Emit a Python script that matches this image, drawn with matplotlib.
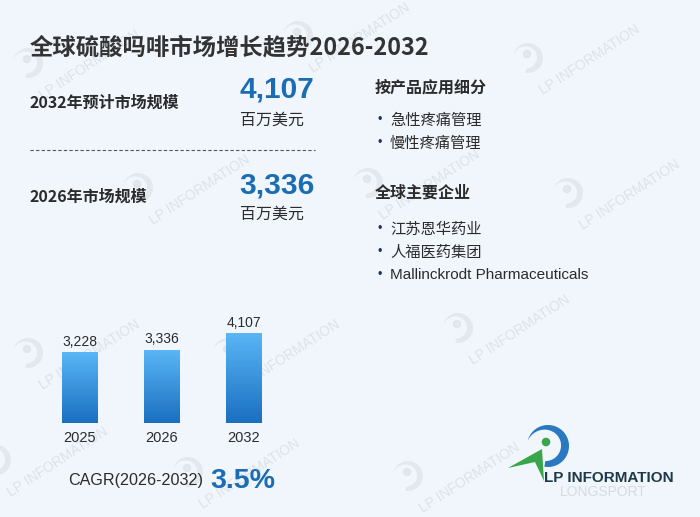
import numpy as np
import matplotlib
matplotlib.use("Agg")
from matplotlib import pyplot as plt
from matplotlib.colors import LinearSegmentedColormap
from matplotlib.patches import Polygon, Circle

plt.rcParams['font.family'] = ['Noto Sans CJK SC', 'DejaVu Sans']

# data
years = ['2025', '2026', '2032']
values = [3228, 3336, 4107]
value_labels = ['3,228', '3,336', '4,107']
title = '全球硫酸吗啡市场增长趋势2026-2032'
size_2032 = '4,107'
size_2026 = '3,336'
unit = '百万美元'
seg_title = '按产品应用细分'
segments = ['急性疼痛管理', '慢性疼痛管理']
comp_title = '全球主要企业'
companies = ['江苏恩华药业', '人福医药集团', 'Mallinckrodt Pharmaceuticals']
cagr_label = 'CAGR(2026-2032)'
cagr = '3.5%'

bg_col = '#f0f6fc'
blue = '#1a6db5'
dark = '#2b2b2b'
latin = ['Liberation Sans', 'Noto Sans CJK SC']

fig = plt.figure(figsize=(7, 5.17), dpi=100, facecolor=bg_col)
bg = fig.add_axes([0, 0, 1, 1])
bg.set_xlim(0, 700)
bg.set_ylim(517, 0)
bg.axis('off')
bg.set_facecolor(bg_col)


def crescent(cx, cy, r, thick, a0, a1):
    # arc that starts pointed and gets thick towards the right side
    s = np.linspace(0, 1, 80)
    a = np.radians(a0 + (a1 - a0) * s)
    t = thick * np.sin(np.pi * s * 0.75)
    outer = np.c_[cx + r * np.cos(a), cy - r * np.sin(a)]
    ri = r - t
    inner = np.c_[cx + ri * np.cos(a), cy - ri * np.sin(a)][::-1]
    return np.vstack([outer, inner])


# watermarks
wm = [(90, 65), (360, 38), (590, 60), (200, 190), (430, 185), (630, 195),
      (90, 355), (290, 355), (520, 330), (58, 462), (250, 474), (470, 478)]
for wx, wy in wm:
    bg.text(wx, wy, 'LP INFORMATION', rotation=33, color='#c9ced4', alpha=0.5,
            fontsize=10, ha='center', va='center', family=latin, zorder=0)
    bg.add_patch(Polygon(crescent(wx - 62, wy - 2, 15, 6, 165, -100), closed=True,
                         color='#d5d9de', alpha=0.45, zorder=0, lw=0))
    bg.add_patch(Circle((wx - 63, wy - 6), 3.5, color='#d5d9de', alpha=0.45, zorder=0))

bg.text(30, 47, title, fontsize=16.8, fontweight='bold', color='#333333', va='center')

# left key numbers
bg.text(30, 103, '2032年预计市场规模', fontsize=11.5, fontweight='bold', color=dark, va='center')
bg.text(239, 90, size_2032, fontsize=21.5, fontweight='bold', color=blue, va='center', family=latin)
bg.text(240, 120, unit, fontsize=11.5, color=dark, va='center')
bg.plot([30, 315], [150, 150], ls=(0, (3, 2)), color='#555555', lw=0.8)
bg.text(30, 197, '2026年市场规模', fontsize=11.5, fontweight='bold', color=dark, va='center')
bg.text(239, 186, size_2026, fontsize=21.5, fontweight='bold', color=blue, va='center', family=latin)
bg.text(240, 214, unit, fontsize=11.5, color=dark, va='center')

# right lists
bg.text(375, 87, seg_title, fontsize=11.5, fontweight='bold', color=dark, va='center')
for i, s in enumerate(segments):
    y = 120 + i * 23
    bg.text(377, y, '•', fontsize=9, color='#1c2f6b', va='center', family=latin)
    bg.text(390, y, s, fontsize=11, color=dark, va='center')
bg.text(375, 193, comp_title, fontsize=11.5, fontweight='bold', color=dark, va='center')
for i, c in enumerate(companies):
    y = 229 + i * 23
    bg.text(377, y, '•', fontsize=9, color='#1c2f6b', va='center', family=latin)
    bg.text(390, y, c, fontsize=11, color=dark, va='center', family=['Noto Sans CJK SC'] if i < 2 else latin)

# CAGR
bg.text(68, 481, cagr_label, fontsize=11.6, color=dark, va='center', family=latin)
bg.text(210, 481, cagr, fontsize=20.5, fontweight='bold', color=blue, va='center', family=latin)

# logo
bg.add_patch(Polygon(crescent(548, 446, 21, 8, 165, -100), closed=True, color='#2a78c2', lw=0, zorder=3))
bg.add_patch(Circle((546, 442), 3.6, color='#3aa64a', zorder=3))
bg.add_patch(Polygon([(508, 468), (542, 449), (544, 481), (535, 462)], closed=True, color='#3aa64a', lw=0, zorder=3))
bg.text(544, 478, 'LP INFORMATION', fontsize=11, fontweight='bold', color='#1e3a4a', va='center', family=latin, zorder=3)
bg.text(560, 492, 'LONGSPORT', fontsize=10, color='#d6dbe0', va='center', family=latin, zorder=2)

# bar chart
ax = fig.add_axes([38.5 / 700, (517 - 423) / 517, 246 / 700, 123 / 517])
ax.patch.set_alpha(0)
x = np.arange(len(years))
w = 0.43
cmap = LinearSegmentedColormap.from_list('barg', ['#1a6fc0', '#5ab6f6'])
grad = np.linspace(0, 1, 256).reshape(-1, 1)
for xi, v, lab in zip(x, values, value_labels):
    ax.imshow(grad, extent=[xi - w / 2, xi + w / 2, 0, v], origin='lower', cmap=cmap, aspect='auto', zorder=2)
    ax.annotate(lab, (xi, v), xytext=(0, 3), textcoords='offset points', ha='center', va='bottom',
                fontsize=10, color=dark, family=latin)
ax.set_xticks(x, years)
ax.tick_params(axis='x', length=0, pad=6, labelsize=10.5, labelcolor=dark)
for t in ax.get_xticklabels():
    t.set_family(latin)
ax.set_yticks([])
for s in ax.spines.values():
    s.set_visible(False)
ax.set_xlim(-0.5, 2.5)
ax.set_ylim(0, 5670)

fig.savefig('out.png', dpi=100, facecolor=bg_col)
